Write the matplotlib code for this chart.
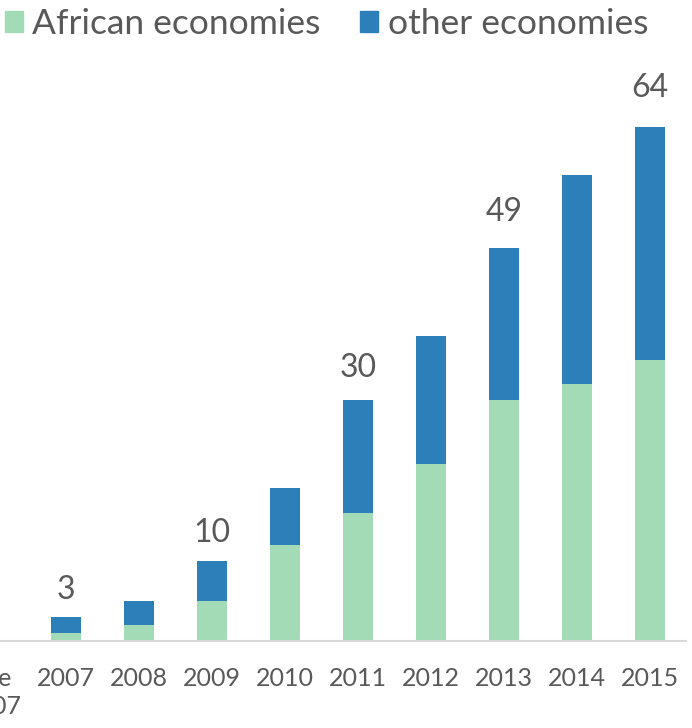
import matplotlib
matplotlib.use("Agg")
import matplotlib.pyplot as plt
from matplotlib.patches import Patch

# Data
categories = ["Pre\n2007", "2007", "2008", "2009", "2010", "2011", "2012", "2013", "2014", "2015"]
african = [0, 1, 2, 5, 12, 16, 22, 30, 32, 35]
other = [0, 2, 3, 5, 7, 14, 16, 19, 26, 29]
labelled_years = ["2007", "2009", "2011", "2013", "2015"]

GREEN = "#a3dbb7"
BLUE = "#2c7fb8"
TEXT = "#595959"
FONT = "Lato"

plt.rcParams["font.family"] = [FONT, "DejaVu Sans"]

W, H = 692, 728
DPI = 100
PT = 72 / DPI  # points per pixel
fig = plt.figure(figsize=(W / DPI, H / DPI), dpi=DPI)

# axes spans categories -0.5 .. 9.5 ; category spacing 73 px
left_px, right_px = -43.5, 686.5
base_px = 641
ymax = 70
px_per_unit = 8.03
ax = fig.add_axes([left_px / W, (H - base_px) / H,
                   (right_px - left_px) / W, ymax * px_per_unit / H])

x = list(range(len(categories)))
ax.bar(x, african, width=0.4, color=GREEN, zorder=2)
ax.bar(x, other, width=0.4, bottom=african, color=BLUE, zorder=2)

# total labels sit a little higher above taller bars
totals = [a + o for a, o in zip(african, other)]
for xi, cat, tot in zip(x, categories, totals):
    if cat in labelled_years:
        gap_px = 17 + 0.2 * tot
        ax.annotate(f"{tot}", (xi, tot), xytext=(0, gap_px * PT), textcoords="offset points",
                    ha="center", va="baseline", fontsize=23, color=TEXT)

ax.set_xlim(-0.5, 9.5)
ax.set_ylim(0, ymax)
ax.set_xticks(x)
ax.set_xticklabels(categories, fontsize=18, color=TEXT, linespacing=1.25)
ax.tick_params(axis="x", length=0, pad=19)
ax.set_yticks([])
for side in ["top", "right", "left"]:
    ax.spines[side].set_visible(False)
ax.spines["bottom"].set_color("#d9d9d9")
ax.spines["bottom"].set_linewidth(1.5)
ax.set_facecolor("none")

handles = [Patch(color=GREEN, label="African economies"),
           Patch(color=BLUE, label="other economies")]
fig.legend(handles=handles, loc="upper left", bbox_to_anchor=(5 / W, 1 - 8 / H),
           ncol=2, frameon=False, fontsize=25.5, handlelength=0.51, handleheight=0.51,
           handletextpad=0.26, columnspacing=1.12, labelcolor=TEXT,
           borderaxespad=0, borderpad=0)

fig.savefig("out.png", dpi=DPI)
